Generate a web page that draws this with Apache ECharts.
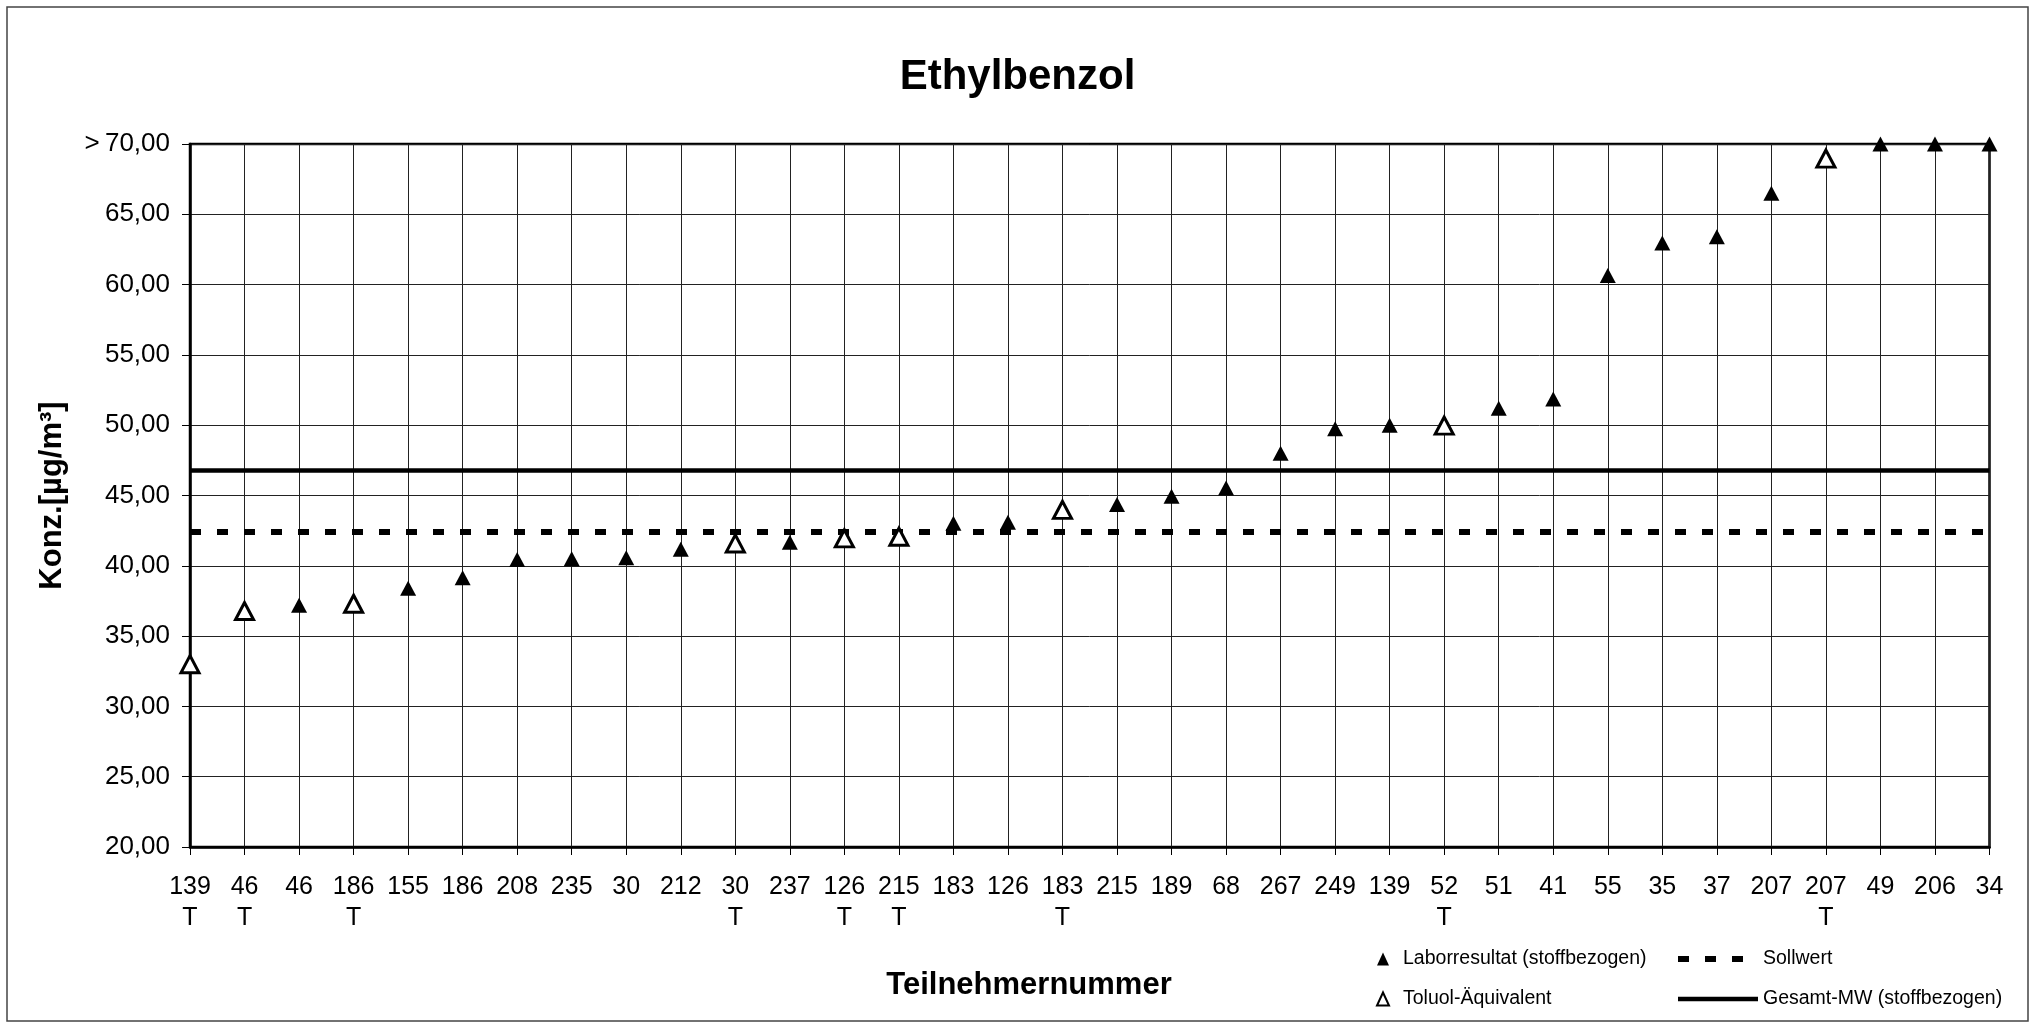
<!DOCTYPE html>
<html><head><meta charset="utf-8">
<script src="https://cdn.jsdelivr.net/npm/echarts@6/dist/echarts.min.js"></script>
<style>html,body{margin:0;padding:0;background:#fff}#c{width:2035px;height:1027px}</style>
</head><body><div id="c"></div>
<script>
const TITLE = 'Ethylbenzol';
const X_TITLE = 'Teilnehmernummer';
const Y_TITLE = 'Konz.[µg/m³]';
const PARTICIPANTS = ['139','46','46','186','155','186','208','235','30','212','30','237','126','215','183','126','183','215','189','68','267','249','139','52','51','41','55','35','37','207','207','49','206','34'];
const TOLUOL_FLAG = [1,1,0,1,0,0,0,0,0,0,1,0,1,1,0,0,1,0,0,0,0,0,0,1,0,0,0,0,0,0,1,0,0,0];
const LABOR_VALUES = ['-','-',37.2,'-',38.4,39.15,40.45,40.5,40.57,41.17,'-',41.68,'-','-',43.03,43.1,'-',44.36,44.95,45.53,48.01,49.75,50.0,'-',51.2,51.87,60.65,62.96,63.4,66.49,'-',70,70,70];
const TOLUOL_VALUES = [33.0,36.78,'-',37.3,'-','-','-','-','-','-',41.59,'-',41.95,42.07,'-','-',43.98,'-','-','-','-','-','-',49.97,'-','-','-','-','-','-',68.96,'-','-','-'];
const SOLLWERT = 42.43;
const GESAMT_MW = 46.83;
const Y_MIN = 20, Y_MAX = 70, Y_STEP = 5;
const Y_TOP_PREFIX = '>';
const SERIES_NAMES = ['Laborresultat (stoffbezogen)', 'Toluol-Äquivalent', 'Sollwert', 'Gesamt-MW (stoffbezogen)'];

const FONT = "'Liberation Sans', Arial, sans-serif";
const categories = PARTICIPANTS.map((p, i) => TOLUOL_FLAG[i] ? p + '\nT' : p);
const dashed = [11, 16];
const noSymbol = { color: 'rgba(0,0,0,0)', borderWidth: 0, opacity: 0 };

const chart = echarts.init(document.getElementById('c'));
chart.setOption({
  backgroundColor: '#fff',
  animation: false,
  textStyle: { fontFamily: FONT, color: '#000' },
  title: [
    { text: TITLE, left: 'center', top: 56, padding: 0,
      textStyle: { fontFamily: FONT, fontSize: 42, fontWeight: 'bold', color: '#000' } },
    { text: X_TITLE, left: 1029, textAlign: 'center', top: 970, padding: 0,
      textStyle: { fontFamily: FONT, fontSize: 31, fontWeight: 'bold', color: '#000' } }
  ],
  graphic: [{
    type: 'rect', silent: true, z: -1,
    shape: { x: 7, y: 7, width: 2021, height: 1014 },
    style: { fill: 'none', stroke: '#444', lineWidth: 1.5 }
  }],
  legend: [
    { left: 1376, top: 949, orient: 'vertical', padding: 0, itemGap: 20,
      itemWidth: 12, itemHeight: 13, symbolKeepAspect: true,
      textStyle: { fontFamily: FONT, fontSize: 19.5, color: '#000', lineHeight: 20, padding: [0, 0, 0, 9] },
      data: [
        { name: SERIES_NAMES[0], icon: 'triangle', itemStyle: { color: '#000', borderWidth: 0 } },
        { name: SERIES_NAMES[1], icon: 'triangle', itemStyle: { color: '#fff', borderColor: '#000', borderWidth: 2 } }
      ] },
    { left: 1675, top: 949, orient: 'vertical', padding: 0, itemGap: 20,
      itemWidth: 80, itemHeight: 13,
      textStyle: { fontFamily: FONT, fontSize: 19.5, color: '#000', lineHeight: 20 },
      data: [
        { name: SERIES_NAMES[2], itemStyle: noSymbol, lineStyle: { color: '#000', width: 6, type: dashed } },
        { name: SERIES_NAMES[3], itemStyle: noSymbol, lineStyle: { color: '#000', width: 4.5, type: 'solid' } }
      ] }
  ],
  grid: {
    left: 190, right: 45.5, top: 144, bottom: 180,
    show: true, borderColor: '#000', borderWidth: 2.5, backgroundColor: 'transparent',
    outerBoundsMode: 'none'
  },
  xAxis: {
    type: 'category', data: categories, boundaryGap: false,
    axisLine: { show: true, lineStyle: { color: '#000', width: 2.5 } },
    axisTick: { show: true, interval: 0, length: 8, lineStyle: { color: '#000', width: 1 } },
    axisLabel: { interval: 0, margin: 25, fontFamily: FONT, fontSize: 25, lineHeight: 31, color: '#000' },
    splitLine: { show: true, interval: 0, lineStyle: { color: '#222', width: 1 } }
  },
  yAxis: {
    type: 'value', min: Y_MIN, max: Y_MAX, interval: Y_STEP,
    name: Y_TITLE, nameLocation: 'middle', nameGap: 122, nameRotate: 90,
    nameTextStyle: { fontFamily: FONT, fontSize: 31, fontWeight: 'bold', color: '#000' },
    axisLine: { show: true, lineStyle: { color: '#000', width: 2.5 } },
    axisTick: { show: true, length: 8, lineStyle: { color: '#000', width: 1 } },
    axisLabel: {
      margin: 20, fontFamily: FONT, fontSize: 26, color: '#000',
      formatter: v => (v === Y_MAX ? Y_TOP_PREFIX + '\u2009' : '') + v.toFixed(2).replace('.', ',')
    },
    splitLine: { show: true, lineStyle: { color: '#222', width: 1 } }
  },
  series: [
    { name: SERIES_NAMES[0], type: 'scatter', data: LABOR_VALUES, clip: false, z: 5,
      symbol: 'triangle', symbolSize: [16, 15],
      itemStyle: { color: '#000', borderWidth: 0, opacity: 1 } },
    { name: SERIES_NAMES[1], type: 'scatter', data: TOLUOL_VALUES, clip: false, z: 5,
      symbol: 'triangle', symbolSize: [18, 17],
      itemStyle: { color: '#fff', borderColor: '#000', borderWidth: 3, opacity: 1 } },
    { name: SERIES_NAMES[2], type: 'line', data: [], symbol: 'none', z: 3,
      itemStyle: { color: '#000' },
      lineStyle: { color: '#000', width: 6, type: dashed },
      markLine: { silent: true, symbol: 'none', label: { show: false },
        lineStyle: { color: '#000', width: 6, type: dashed },
        data: [{ yAxis: SOLLWERT }] } },
    { name: SERIES_NAMES[3], type: 'line', data: [], symbol: 'none', z: 3,
      itemStyle: { color: '#000' },
      lineStyle: { color: '#000', width: 4.5, type: 'solid' },
      markLine: { silent: true, symbol: 'none', label: { show: false },
        lineStyle: { color: '#000', width: 4.5, type: 'solid' },
        data: [{ yAxis: GESAMT_MW }] } }
  ]
});
</script></body></html>
